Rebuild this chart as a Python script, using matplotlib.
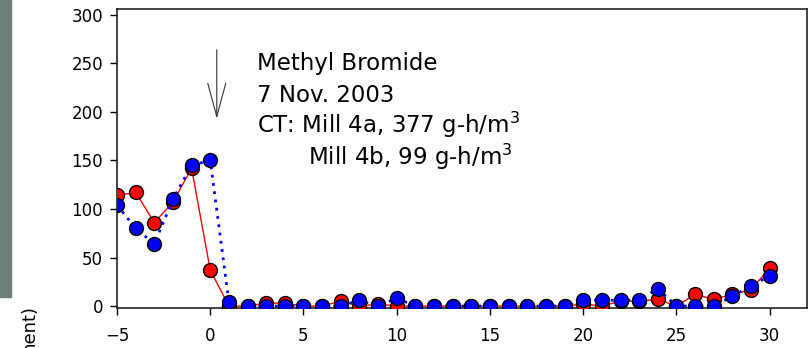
import matplotlib
matplotlib.use("Agg")
import matplotlib.pyplot as plt
from matplotlib.patches import Rectangle

plt.rcParams['font.family'] = ['DejaVu Sans']
plt.rcParams['mathtext.fontset'] = 'dejavusans'

days = list(range(-5, 31))
mill_4a = [114, 117, 86, 107, 142, 37, 0, 0, 3, 3, 0, 0, 5, 0, 2, 0,
           0, 0, 0, 0, 0, 0, 0, 0, 0, 2, 0, 5, 5, 7, 0, 12, 7, 12, 17, 39]
mill_4b = [104, 80, 64, 110, 145, 150, 4, 0, 0, 0, 0, 0, 0, 6, 0, 8,
           0, 0, 0, 0, 0, 0, 0, 0, 0, 6, 6, 6, 6, 18, 0, 0, 0, 10, 21, 31]
x_ticks = [-5, 0, 5, 10, 15, 20, 25, 30]
y_ticks = [0, 50, 100, 150, 200, 250, 300]

fig = plt.figure(figsize=(8.1, 3.48), dpi=100)
ax = fig.add_axes([117/810, 1-308/348, (807-117)/810, (308-8.5)/348])

ax.plot(days, mill_4a, color='red', lw=1.0, marker='o', ms=10,
        mfc='red', mec='black', mew=1.0, zorder=3)
ax.plot(days, mill_4b, color='blue', lw=2.0, ls=(0, (1, 2)), marker='o', ms=10,
        mfc='blue', mec='black', mew=1.0, zorder=4)

ax.set_xlim(-5, 32)
ax.set_ylim(-2, 306.5)
ax.set_xticks(x_ticks)
ax.set_yticks(y_ticks)
ax.tick_params(direction='out', length=5, width=1, labelsize=12, colors='black')
ax.tick_params(axis='x', pad=9)
ax.tick_params(axis='y', pad=5)
for s in ax.spines.values():
    s.set_linewidth(1.2)
    s.set_color('#222222')

# application arrow
ax.annotate('', xy=(0.35, 193), xytext=(0.35, 264),
            arrowprops=dict(arrowstyle='->, head_length=2.4, head_width=0.65',
                            color='#333333', lw=0.8, mutation_scale=10,
                            shrinkA=0, shrinkB=0))

lines = ['Methyl Bromide', '7 Nov. 2003', r'CT: Mill 4a, 377 g-h/m$^3$']
for i, t in enumerate(lines):
    fig.text(257/810, 1-(70+31.5*i)/348, t, fontsize=16.5, va='baseline', ha='left')
fig.text(308/810, 1-165/348, r'Mill 4b, 99 g-h/m$^3$', fontsize=16.5,
         va='baseline', ha='left')

# pieces of neighbouring panel
fig.patches.append(Rectangle((0, 1-297/348), 11/810, 297/348,
                             transform=fig.transFigure, color='#6f7f75', zorder=0))
fig.text(29/810, 1-305/348, 'ment)', rotation=90, ha='center', va='top', fontsize=13)

fig.savefig('out.png', dpi=100)
